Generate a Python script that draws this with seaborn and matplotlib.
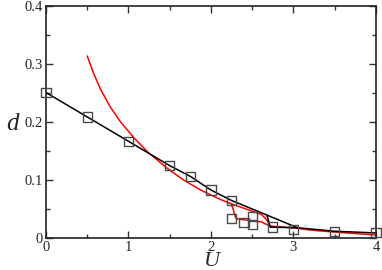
import numpy as np
import pandas as pd
import matplotlib
matplotlib.use("Agg")
import matplotlib.pyplot as plt
from matplotlib.ticker import MultipleLocator
import seaborn as sns

# black line (main branch)
U_black = [0, 0.5, 1.0, 1.5, 1.75, 2.0, 2.25, 3.05, 3.5, 4.0]
d_black = [0.25, 0.208, 0.166, 0.124, 0.1055, 0.082, 0.064, 0.017, 0.011, 0.008]
# black line (short branch)
U_black2 = [2.68, 2.72, 3.05]
d_black2 = [0.038, 0.018, 0.017]

# red curve (main)
U_red = [0.5, 0.58, 0.66, 0.78, 0.9, 1.07, 1.23, 1.46, 1.66, 1.87, 2.11, 2.25,
         2.47, 2.61, 2.675, 2.715, 3.05, 3.2, 3.5, 4.0]
d_red = [0.313, 0.282, 0.256, 0.225, 0.200, 0.1715, 0.148, 0.1205, 0.100, 0.0823,
         0.066, 0.058, 0.047, 0.040, 0.031, 0.020, 0.016, 0.013, 0.0095, 0.0045]
# red curve (lower branch)
U_red2 = [2.25, 2.30, 2.33, 2.5, 2.61, 2.715]
d_red2 = [0.058, 0.034, 0.032, 0.029, 0.027, 0.020]

# square markers
U_pts = [0, 0.5, 1.0, 1.5, 1.75, 2.0, 2.25, 2.25, 2.4, 2.5, 2.5, 2.75, 3.0, 3.5, 4.0]
d_pts = [0.25, 0.208, 0.166, 0.124, 0.1055, 0.082, 0.064, 0.033, 0.026, 0.036,
         0.023, 0.018, 0.014, 0.010, 0.009]

sns.set_style("ticks")
plt.rcParams['font.family'] = ['Liberation Serif', 'DejaVu Serif']

fig = plt.figure(figsize=(3.82, 2.70), dpi=100)
ax = fig.add_axes([0.1204, 0.12, 0.8636, 0.8596])

sns.lineplot(x=U_red, y=d_red, sort=False, color='red', lw=1.1, ax=ax)
sns.lineplot(x=U_red2, y=d_red2, sort=False, color='red', lw=1.1, ax=ax)
sns.lineplot(x=U_black, y=d_black, sort=False, color='black', lw=1.1, ax=ax)
sns.lineplot(x=U_black2, y=d_black2, sort=False, color='black', lw=1.1, ax=ax)
sns.scatterplot(x=U_pts, y=d_pts, marker='s', s=45, facecolor='none',
                edgecolor='#4a4a4a', linewidth=1.0, ax=ax, zorder=5)
for c in ax.collections:
    c.set_clip_on(False)

ax.set_xlim(0, 4)
ax.set_ylim(0, 0.4)
ax.set_xticks([0, 1, 2, 3, 4])
ax.set_xticklabels(['0', '1', '2', '3', '4'])
ax.set_yticks([0, 0.1, 0.2, 0.3, 0.4])
ax.set_yticklabels(['0', '0.1', '0.2', '0.3', '0.4'])
ax.xaxis.set_minor_locator(MultipleLocator(0.5))
ax.yaxis.set_minor_locator(MultipleLocator(0.05))
ax.tick_params(which='both', direction='in', top=True, right=True,
               labelsize=10.5, color='#333333')
ax.tick_params(which='major', length=5, width=1.0, pad=2.5)
ax.tick_params(which='minor', length=3, width=1.0)
for sp in ax.spines.values():
    sp.set_linewidth(1.2)
    sp.set_color('#222222')

ax.set_xlabel('U', fontsize=16, style='italic', va='center')
ax.xaxis.set_label_coords(0.503, -0.103)
ax.set_ylabel('d', fontsize=18, style='italic', rotation=0, va='center',
              ha='center')
ax.yaxis.set_label_coords(-0.103, 0.489)

fig.savefig('out.png', dpi=100)
